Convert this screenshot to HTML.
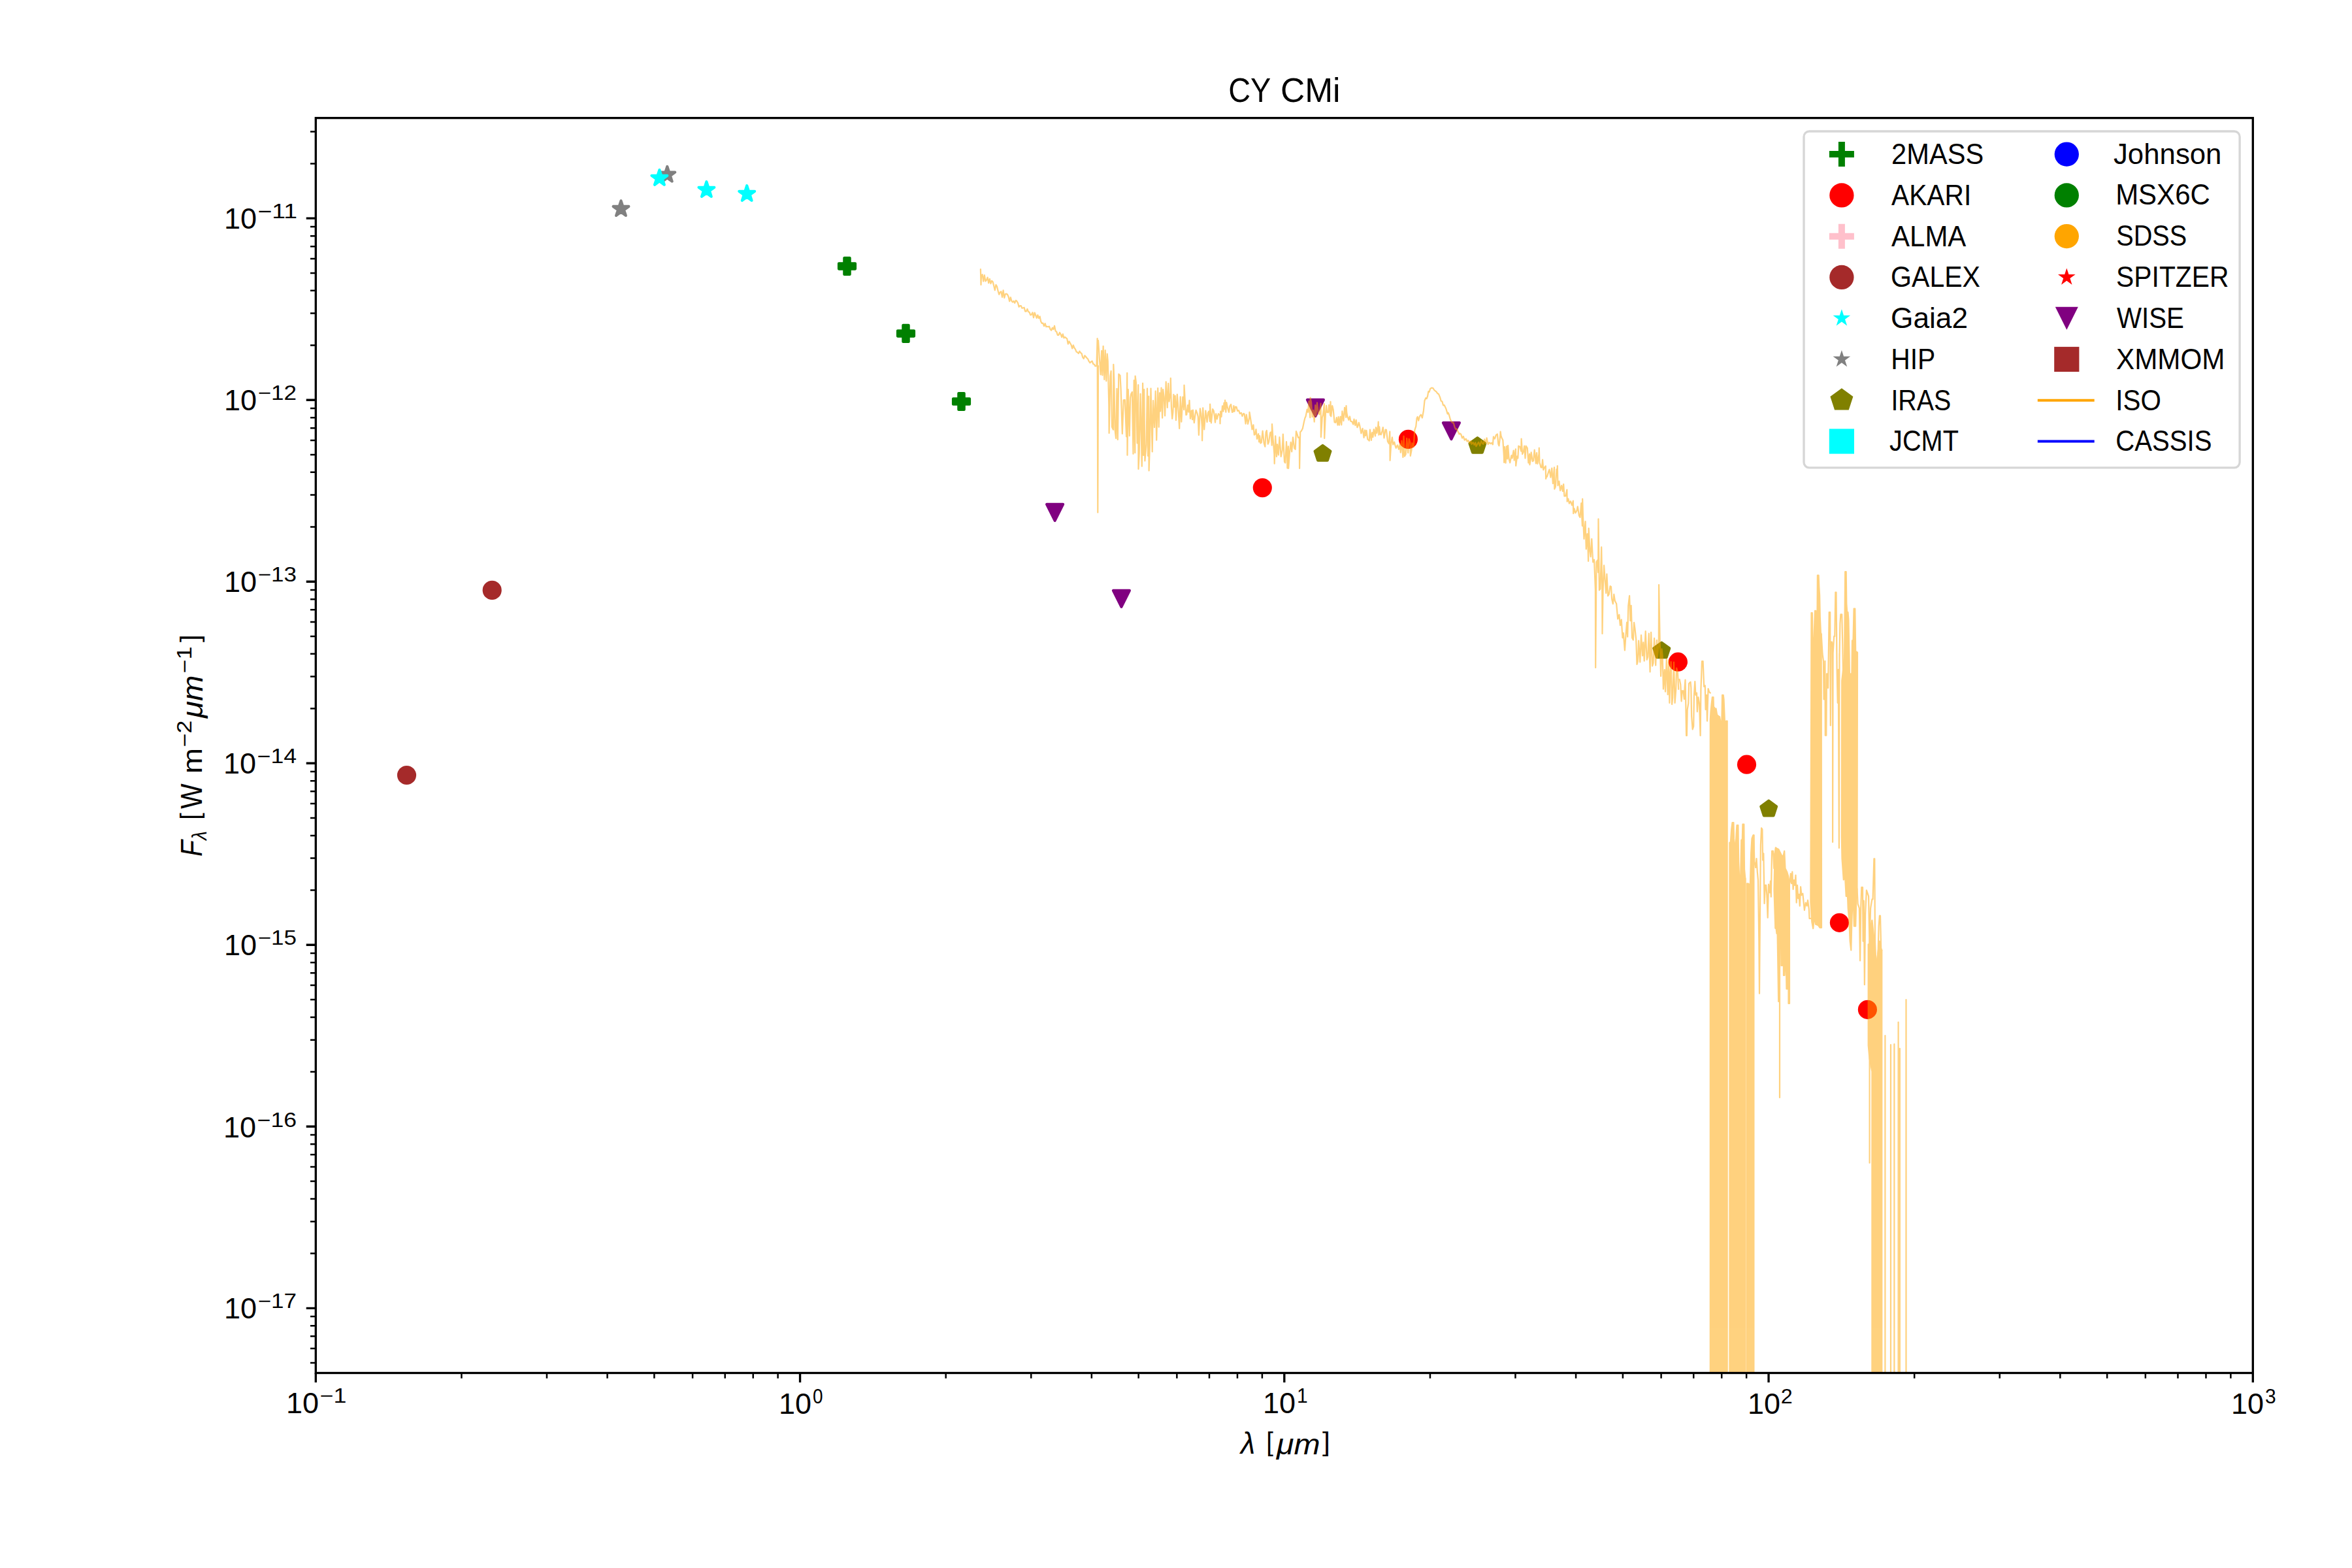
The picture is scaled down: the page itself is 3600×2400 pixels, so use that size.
<!DOCTYPE html><html><head><meta charset="utf-8"><title>CY CMi</title><style>html,body{margin:0;padding:0;background:#fff;overflow:hidden}svg{display:block}</style></head><body>
<svg width="3600" height="2400" viewBox="0 0 3600 2400">
<rect width="3600" height="2400" fill="#fff"/>
<defs><clipPath id="ax"><rect x="483.3" y="180.6" width="2965.0" height="1920.9"/></clipPath></defs>
<g clip-path="url(#ax)">
<circle cx="622.5" cy="1186.5" r="14.58" fill="#a52a2a"/><circle cx="753.2" cy="903.4" r="14.58" fill="#a52a2a"/><polygon points="950.50,307.30 953.31,315.94 962.39,315.94 955.04,321.28 957.85,329.91 950.50,324.57 943.15,329.91 945.96,321.28 938.61,315.94 947.69,315.94" fill="#808080" stroke="#808080" stroke-width="4.17" stroke-linejoin="round"/><polygon points="1021.30,255.00 1024.11,263.64 1033.19,263.64 1025.84,268.98 1028.65,277.61 1021.30,272.27 1013.95,277.61 1016.76,268.98 1009.41,263.64 1018.49,263.64" fill="#808080" stroke="#808080" stroke-width="4.17" stroke-linejoin="round"/><polygon points="1009.40,260.10 1012.21,268.74 1021.29,268.74 1013.94,274.08 1016.75,282.71 1009.40,277.37 1002.05,282.71 1004.86,274.08 997.51,268.74 1006.59,268.74" fill="#00ffff" stroke="#00ffff" stroke-width="4.17" stroke-linejoin="round"/><polygon points="1081.40,278.20 1084.21,286.84 1093.29,286.84 1085.94,292.18 1088.75,300.81 1081.40,295.47 1074.05,300.81 1076.86,292.18 1069.51,286.84 1078.59,286.84" fill="#00ffff" stroke="#00ffff" stroke-width="4.17" stroke-linejoin="round"/><polygon points="1143.20,284.20 1146.01,292.84 1155.09,292.84 1147.74,298.18 1150.55,306.81 1143.20,301.47 1135.85,306.81 1138.66,298.18 1131.31,292.84 1140.39,292.84" fill="#00ffff" stroke="#00ffff" stroke-width="4.17" stroke-linejoin="round"/><polygon points="1292.33,394.90 1300.67,394.90 1300.67,403.23 1309.00,403.23 1309.00,411.57 1300.67,411.57 1300.67,419.90 1292.33,419.90 1292.33,411.57 1284.00,411.57 1284.00,403.23 1292.33,403.23" fill="#008000" stroke="#008000" stroke-width="4.17" stroke-linejoin="round"/><polygon points="1382.33,497.90 1390.67,497.90 1390.67,506.23 1399.00,506.23 1399.00,514.57 1390.67,514.57 1390.67,522.90 1382.33,522.90 1382.33,514.57 1374.00,514.57 1374.00,506.23 1382.33,506.23" fill="#008000" stroke="#008000" stroke-width="4.17" stroke-linejoin="round"/><polygon points="1467.33,602.00 1475.67,602.00 1475.67,610.33 1484.00,610.33 1484.00,618.67 1475.67,618.67 1475.67,627.00 1467.33,627.00 1467.33,618.67 1459.00,618.67 1459.00,610.33 1467.33,610.33" fill="#008000" stroke="#008000" stroke-width="4.17" stroke-linejoin="round"/><polygon points="1602.10,771.90 1627.10,771.90 1614.60,796.90" fill="#800080" stroke="#800080" stroke-width="4.17" stroke-linejoin="round"/><polygon points="1703.90,903.90 1728.90,903.90 1716.40,928.90" fill="#800080" stroke="#800080" stroke-width="4.17" stroke-linejoin="round"/><polygon points="2000.90,611.90 2025.90,611.90 2013.40,636.90" fill="#800080" stroke="#800080" stroke-width="4.17" stroke-linejoin="round"/><polygon points="2208.90,647.10 2233.90,647.10 2221.40,672.10" fill="#800080" stroke="#800080" stroke-width="4.17" stroke-linejoin="round"/><polygon points="2024.50,682.00 2036.39,690.64 2031.85,704.61 2017.15,704.61 2012.61,690.64" fill="#808000" stroke="#808000" stroke-width="4.17" stroke-linejoin="round"/><polygon points="2261.40,670.10 2273.29,678.74 2268.75,692.71 2254.05,692.71 2249.51,678.74" fill="#808000" stroke="#808000" stroke-width="4.17" stroke-linejoin="round"/><polygon points="2543.30,983.60 2555.19,992.24 2550.65,1006.21 2535.95,1006.21 2531.41,992.24" fill="#808000" stroke="#808000" stroke-width="4.17" stroke-linejoin="round"/><polygon points="2707.20,1225.70 2719.09,1234.34 2714.55,1248.31 2699.85,1248.31 2695.31,1234.34" fill="#808000" stroke="#808000" stroke-width="4.17" stroke-linejoin="round"/><circle cx="1932.3" cy="746.6" r="14.58" fill="#ff0000"/><circle cx="2155.4" cy="672.4" r="14.58" fill="#ff0000"/><circle cx="2568.4" cy="1013.2" r="14.58" fill="#ff0000"/><circle cx="2673.5" cy="1170.2" r="14.58" fill="#ff0000"/><circle cx="2815.4" cy="1412.3" r="14.58" fill="#ff0000"/><circle cx="2858.4" cy="1545.3" r="14.58" fill="#ff0000"/>
<g opacity="0.5"><path d="M1500.9 412.0 L1501.5 436.0 L1502.0 422.3 L1503.6 420.1 L1505.2 430.6 L1506.8 421.1 L1508.4 430.5 L1510.0 428.6 L1511.6 424.6 L1513.2 433.2 L1514.8 426.8 L1516.4 434.1 L1518.0 429.8 L1519.6 431.4 L1521.2 437.4 L1522.8 444.2 L1524.4 435.9 L1526.0 438.6 L1527.6 445.3 L1529.2 450.8 L1530.8 447.2 L1532.4 446.2 L1534.0 454.9 L1535.6 444.4 L1537.2 455.9 L1538.8 450.1 L1540.4 449.7 L1542.0 450.7 L1543.6 454.2 L1545.2 461.2 L1546.8 455.1 L1548.4 460.8 L1550.0 462.5 L1551.6 460.7 L1553.2 463.8 L1554.8 459.8 L1556.4 461.0 L1558.0 463.7 L1559.6 469.6 L1561.2 468.2 L1562.8 468.0 L1564.4 471.7 L1566.0 471.3 L1567.6 470.7 L1569.2 476.6 L1570.8 476.6 L1572.4 473.0 L1574.0 477.3 L1575.6 477.8 L1577.2 482.2 L1578.8 481.7 L1580.4 478.3 L1582.0 486.2 L1583.6 478.5 L1585.2 482.5 L1586.8 486.8 L1588.4 482.2 L1590.0 487.2 L1591.6 484.3 L1593.2 492.2 L1594.8 494.8 L1596.4 494.5 L1598.0 499.1 L1599.6 495.1 L1601.2 500.1 L1602.8 499.7 L1604.4 500.2 L1606.0 499.6 L1607.6 504.0 L1609.2 505.7 L1610.8 501.6 L1612.4 504.1 L1614.0 498.7 L1615.6 506.7 L1617.2 507.8 L1618.8 512.9 L1620.4 512.8 L1622.0 509.0 L1623.6 511.7 L1625.2 516.1 L1626.8 511.3 L1628.4 517.3 L1630.0 516.0 L1631.6 517.2 L1633.2 518.4 L1634.8 526.5 L1636.4 522.4 L1638.0 525.2 L1639.6 528.0 L1641.2 533.4 L1642.8 528.3 L1644.4 532.5 L1646.0 534.6 L1647.6 538.6 L1649.2 539.3 L1650.8 541.0 L1652.4 537.6 L1654.0 539.9 L1655.6 541.1 L1657.2 546.9 L1658.8 549.0 L1660.4 544.2 L1662.0 546.0 L1663.6 548.0 L1665.2 549.6 L1666.8 553.2 L1668.4 555.3 L1670.0 553.7 L1671.6 552.7 L1673.2 557.0 L1674.8 557.7 L1676.4 560.3 L1678.5 560.0 L1679.6 518.0 L1680.3 784.5 L1681.0 560.0 M1681.0 521.2 L1682.8 548.2 L1684.7 573.4 L1686.2 536.8 L1687.4 574.4 L1688.6 529.9 L1690.3 581.0 L1691.7 536.2 L1693.3 583.2 L1694.7 541.5 L1695.7 552.6 L1697.3 619.2 L1697.6 663.0 L1699.4 575.6 L1700.6 567.9 L1702.0 653.6 L1704.0 657.7 L1704.3 557.9 L1705.3 582.0 L1706.6 657.8 L1708.1 671.0 L1709.5 594.8 L1710.8 672.9 L1712.3 572.6 L1714.5 574.7 L1715.6 595.1 L1717.8 664.0 L1719.7 612.4 L1721.8 612.2 L1724.1 668.3 L1725.2 570.9 L1725.5 696.7 L1726.8 596.2 L1728.8 667.1 L1730.1 608.7 L1731.2 603.1 L1732.9 599.9 L1734.5 694.7 L1735.7 582.2 L1737.3 693.1 L1737.6 575.5 L1738.9 585.4 L1740.6 678.3 L1742.2 589.1 L1742.5 718.0 L1743.7 693.9 L1745.6 602.8 L1747.8 713.7 L1749.1 586.6 L1750.2 697.0 L1751.2 596.0 L1752.4 705.5 L1754.5 681.7 L1756.0 594.5 L1757.1 697.8 L1758.3 606.6 L1758.6 720.4 L1759.9 681.2 L1761.5 594.5 L1763.7 691.4 L1765.0 613.2 L1767.0 654.1 L1768.7 598.6 L1770.2 673.7 L1772.2 594.0 L1773.7 653.7 L1775.0 601.3 L1776.1 629.5 L1777.5 593.5 L1779.1 639.7 L1780.1 596.0 L1781.6 607.2 L1783.1 636.5 L1784.7 584.4 L1786.8 624.0 L1788.2 586.8 L1789.5 614.6 L1791.5 601.2 L1791.8 578.8 L1792.9 622.5 L1794.2 640.8 L1795.4 630.8 L1796.4 603.8 L1797.6 622.9 L1798.7 605.8 L1800.0 643.2 L1801.8 603.6 L1803.1 620.7 L1804.9 650.1 L1805.2 656.0 L1806.7 607.3 L1808.3 645.7 L1810.3 607.7 L1812.2 627.1 L1812.5 589.5 L1813.6 609.6 L1815.4 635.1 L1816.3 634.6 L1818.0 620.2 L1819.3 630.7 L1820.5 612.9 L1821.9 640.8 L1823.7 628.4 L1825.0 642.1 L1825.9 627.7 L1827.8 647.2 L1829.3 635.7 L1830.6 627.9 L1832.6 633.1 L1833.8 638.1 L1834.9 665.9 L1836.9 625.3 L1838.2 632.4 L1839.8 651.7 L1840.1 674.5 L1841.2 624.4 L1843.2 657.4 L1845.3 628.5 L1847.6 646.0 L1848.9 632.1 L1850.2 629.6 L1851.8 645.0 L1852.1 618.6 L1853.9 647.5 L1856.1 626.2 L1857.6 628.5 L1858.6 634.5 L1860.0 646.7 L1861.3 633.4 L1862.8 641.4 L1864.9 633.2 L1867.2 636.0 L1867.5 648.5 L1868.2 629.5 L1869.5 638.0 L1871.0 621.3 L1872.4 629.6 L1873.5 616.6 L1874.8 626.4 L1875.1 612.5 L1876.3 630.8 L1877.3 616.0 L1878.8 623.4 L1881.0 630.9 L1882.3 621.8 L1884.1 618.9 L1886.0 631.0 L1887.3 630.2 L1888.4 621.1 L1889.5 629.8 L1891.0 622.6 L1892.5 622.8 L1894.1 629.0 L1896.0 628.2 L1897.8 633.2 L1899.9 631.8 L1901.4 637.0 L1903.3 632.9 L1904.7 633.8 L1906.6 648.6 L1907.8 634.6 L1910.0 649.0 L1912.2 639.3 L1912.5 630.9 L1914.3 642.2 L1916.5 657.4 L1918.4 650.3 L1919.8 665.6 L1921.2 664.5 L1922.5 657.0 L1924.0 671.8 L1926.1 664.1 L1927.1 676.5 L1928.1 667.2 L1929.4 678.5 L1930.7 677.4 L1932.6 659.6 L1934.7 678.5 L1936.3 683.6 L1937.6 661.7 L1938.8 658.9 L1940.7 679.7 L1942.1 676.6 L1944.1 662.3 L1945.4 661.4 L1946.7 681.6 L1947.0 649.2 L1948.6 672.5 L1950.4 695.2 L1950.7 709.7 L1952.2 667.4 L1953.9 698.9 L1955.1 680.0 L1956.8 696.5 L1958.4 669.2 L1960.7 698.8 L1962.7 689.0 L1963.8 664.6 L1966.0 706.8 L1967.3 708.5 L1969.0 676.2 L1970.1 696.8 L1970.4 716.6 L1971.9 683.1 L1972.2 717.0 L1973.8 694.0 L1975.7 676.9 L1977.2 691.3 L1979.0 669.3 L1981.2 686.3 L1982.7 687.8 L1983.9 660.2 L1985.4 664.3 L1987.0 669.9 L1988.8 669.3 L1989.1 717.0 L1990.2 661.3 L1991.8 659.7 L1993.8 655.9 L1996.0 645.4 L1997.4 639.7 L1998.6 637.2 L2000.7 626.5 L2002.1 631.0 L2003.4 614.0 L2005.3 639.1 L2005.6 608.5 L2007.1 615.9 L2008.6 638.1 L2010.1 627.8 L2011.7 645.6 L2013.2 620.1 L2014.3 636.1 L2016.0 616.3 L2017.9 633.0 L2019.4 634.1 L2021.6 617.5 L2021.9 669.0 L2023.8 639.0 L2025.0 634.9 L2026.9 618.0 L2027.2 671.0 L2028.9 633.8 L2030.1 620.8 L2031.1 630.9 L2033.0 631.3 L2034.1 619.9 L2036.2 635.9 L2036.5 614.8 L2037.3 637.4 L2039.2 621.0 L2040.7 627.1 L2042.6 646.3 L2044.3 646.9 L2045.7 639.2 L2047.5 650.6 L2048.6 638.2 L2050.0 650.6 L2051.7 637.5 L2053.3 650.3 L2054.4 629.3 L2056.4 644.1 L2058.1 623.9 L2060.2 638.9 L2060.5 621.2 L2061.2 631.0 L2062.3 636.9 L2064.4 642.8 L2066.0 637.5 L2067.4 644.9 L2069.4 645.2 L2071.3 649.6 L2072.5 641.6 L2074.4 651.1 L2075.7 642.9 L2077.4 654.2 L2078.6 651.6 L2079.9 646.8 L2081.3 651.8 L2083.4 663.4 L2085.6 655.8 L2087.6 669.9 L2089.0 658.3 L2090.1 666.9 L2091.5 658.8 L2093.3 672.3 L2094.7 673.5 L2095.8 674.6 L2096.9 657.7 L2098.9 673.8 L2100.2 662.0 L2101.4 669.0 L2102.8 657.1 L2105.0 667.3 L2106.0 654.0 L2107.4 662.9 L2109.4 650.7 L2109.7 645.5 L2110.4 665.7 L2111.3 653.4 L2112.5 664.8 L2113.8 665.3 L2115.7 659.3 L2116.8 654.1 L2118.5 670.4 L2120.6 657.5 L2121.9 657.8 L2124.0 675.8 L2125.9 679.0 L2127.3 660.6 L2127.6 704.8 L2129.2 679.4 L2130.9 669.4 L2132.2 680.5 L2134.2 676.6 L2135.6 682.4 L2136.8 685.9 L2139.0 681.3 L2141.0 687.8 L2142.8 679.6 L2143.8 692.6 L2145.4 674.6 L2147.1 695.6 L2147.4 700.0 L2148.6 667.7 L2149.9 698.4 L2151.7 695.2 L2153.2 670.9 L2155.2 693.1 L2156.7 671.9 L2158.5 677.5 L2158.8 697.8 L2160.5 689.4 L2161.5 678.2 L2163.7 684.3 L2165.3 658.5 L2167.3 652.4 L2168.6 640.0 L2169.7 637.9 L2171.2 643.8 L2173.0 637.1 L2174.9 634.6 L2176.9 639.6 L2178.9 628.7 L2180.5 613.3 L2182.3 609.2 L2183.7 610.1 L2185.1 606.4 L2186.4 599.0 L2187.7 599.8 L2189.2 594.9 L2191.3 593.6 L2193.4 594.0 L2195.2 597.0 L2197.0 598.5 L2198.3 599.4 L2200.4 602.3 L2202.1 603.3 L2204.1 608.1 L2205.7 613.8 L2207.4 614.5 L2209.0 620.3 L2210.6 620.1 L2211.6 622.1 L2213.4 625.9 L2215.6 633.5 L2216.6 631.6 L2217.9 634.7 L2220.1 642.7 L2221.4 644.8 L2223.1 647.2 L2224.6 646.6 L2226.6 654.0 L2228.2 657.1 L2229.6 656.3 L2231.4 660.2 L2233.5 664.6 L2234.4 663.3 L2236.2 664.7 L2238.0 670.5 L2239.8 667.9 L2241.7 673.6 L2243.9 671.7 L2245.8 675.7 L2247.3 674.1 L2249.5 678.1 L2251.5 674.9 L2252.5 679.8 L2254.7 677.1 L2256.5 681.1 L2258.3 677.5 L2259.4 683.2 L2261.3 679.9 L2263.2 676.8 L2265.1 682.4 L2267.3 674.7 L2269.3 679.3 L2270.4 679.8 L2272.1 672.4 L2274.1 678.9 L2275.6 670.3 L2277.6 680.1 L2279.4 677.4 L2281.7 679.0 L2283.2 677.8 L2284.9 680.4 L2285.9 668.4 L2287.9 671.6 L2289.9 665.9 L2291.9 664.4 L2293.3 679.5 L2294.5 682.4 L2296.3 666.7 L2296.6 660.7 L2297.5 667.2 L2298.6 670.2 L2300.3 673.4 L2301.9 697.8 L2302.2 708.0 L2303.1 683.9 L2304.6 708.7 L2306.0 683.1 L2307.2 702.5 L2308.1 681.8 L2309.7 702.5 L2311.2 708.3 L2313.4 697.1 L2314.6 701.4 L2316.7 689.5 L2317.7 704.7 L2319.9 687.3 L2320.2 713.0 L2322.1 698.3 L2323.3 701.4 L2324.3 682.6 L2326.4 683.7 L2328.3 690.6 L2328.6 671.5 L2330.2 695.1 L2331.9 691.2 L2333.2 682.7 L2334.5 701.4 L2335.7 682.6 L2337.8 685.9 L2339.4 708.5 L2341.1 694.8 L2341.4 711.3 L2342.7 703.6 L2343.7 692.4 L2345.8 706.2 L2347.1 705.2 L2348.7 688.6 L2350.9 709.4 L2352.1 693.1 L2353.4 709.8 L2355.5 694.9 L2355.8 685.6 L2356.5 708.4 L2357.5 711.2 L2358.5 715.3 L2360.0 715.6 L2361.1 703.7 L2362.3 719.2 L2363.9 715.7 L2365.8 713.3 L2366.1 732.9 L2366.9 729.7 L2367.9 729.6 L2369.9 723.0 L2371.5 718.6 L2373.5 730.7 L2375.3 716.5 L2376.9 740.2 L2379.0 715.3 L2379.3 748.6 L2380.9 745.0 L2382.5 718.4 L2383.5 725.1 L2383.8 713.0 L2384.5 743.3 L2386.4 736.6 L2388.1 750.9 L2390.2 743.1 L2391.8 751.9 L2393.2 741.0 L2394.4 759.4 L2396.4 759.2 L2398.4 749.5 L2398.7 767.7 L2400.4 763.4 L2401.9 770.6 L2403.9 767.1 L2406.1 773.4 L2407.9 766.6 L2408.2 786.0 L2409.5 778.3 L2411.4 785.1 L2413.5 781.7 L2414.8 775.3 L2417.0 789.4 L2418.5 791.9 L2420.3 770.1 L2421.9 804.9 L2422.2 763.6 L2423.0 790.7 L2424.5 824.8 L2426.6 798.2 L2427.8 840.5 L2429.5 817.1 L2430.8 845.9 L2431.1 859.0 L2431.7 808.6 L2433.4 842.6 L2434.7 852.1 L2436.3 824.9 L2438.2 860.5 L2440.1 856.6 L2441.9 901.9 L2442.2 1022.0 L2443.5 860.1 L2445.1 857.5 L2446.2 876.1 L2446.5 794.3 L2447.9 903.4 L2449.4 901.6 L2450.9 851.9 L2451.2 837.4 L2452.2 894.4 L2452.5 970.0 L2453.6 902.7 L2455.1 865.3 L2456.8 889.4 L2458.2 907.8 L2459.4 878.6 L2461.1 912.1 L2462.7 909.7 L2464.6 897.1 L2466.0 898.2 L2467.1 916.8 L2468.8 924.3 L2470.3 909.6 L2471.9 919.8 L2474.1 923.9 L2476.2 947.4 L2478.3 940.8 L2479.9 957.2 L2481.7 948.4 L2483.5 976.2 L2484.8 968.9 L2486.9 995.3 L2488.5 972.2 L2490.1 952.5 L2491.2 974.7 L2492.3 927.1 L2494.1 911.8 L2495.4 950.2 L2496.7 926.9 L2498.1 976.2 L2499.8 979.6 L2501.1 952.9 L2502.5 962.7 L2504.2 978.4 L2505.5 1016.9 L2506.8 1012.5 L2508.1 980.6 L2510.3 1013.5 L2512.0 972.2 L2514.0 1003.6 L2515.3 983.1 L2516.7 1011.6 L2518.7 966.0 L2520.7 1009.8 L2522.2 1005.6 L2523.8 969.7 L2525.6 1028.5 L2527.1 967.8 L2529.1 1019.5 L2530.5 1014.9 L2532.1 976.9 L2534.2 1018.5 L2535.9 979.8 L2536.9 1006.9 L2538.8 987.3 L2539.1 895.0 L2540.7 983.2 L2542.1 1034.9 L2543.5 993.4 L2544.7 1004.0 L2545.9 1054.6 L2547.8 1025.1 L2549.0 1058.7 L2550.8 1008.8 L2552.7 1063.1 L2554.1 1010.3 L2555.4 1075.9 L2556.4 1034.0 L2557.7 1013.0 L2559.1 1078.1 L2560.2 1068.0 L2562.0 1013.6 L2563.6 1076.0 L2565.2 1055.6 L2566.2 1022.5 L2567.9 1029.1 L2569.2 1054.9 M2570.7 1039.9 L2572.3 1047.8 L2573.6 1073.3 L2574.7 1057.4 L2576.3 1057.4 L2577.9 1070.1 L2578.7 1051.0 L2579.5 1040.7 L2580.3 1078.1 L2581.1 1125.9 L2581.9 1125.9 L2582.7 1086.1 L2584.3 1076.5 L2585.1 1046.2 L2587.5 1043.8 L2588.3 1052.6 L2589.1 1095.6 L2590.7 1116.4 L2592.2 1111.6 L2593.0 1063.8 L2594.3 1043.0 L2595.4 1063.8 L2597.0 1060.6 L2597.8 1089.3 L2599.4 1067.0 L2601.0 1076.5 L2602.6 1125.9 L2603.4 1055.8 L2605.0 1012.0 L2606.6 1012.0 L2608.2 1051.0 L2609.8 1049.4 L2610.6 1086.1 L2612.2 1063.8 L2613.0 1103.6 L2614.6 1054.2 L2616.2 1059.0 L2617.8 1060.6 M2684.4 1278.3 L2685.3 1319.1 L2687.2 1328.0 L2688.5 1314.0 L2689.8 1334.4 L2691.0 1347.2 L2692.3 1440.1 L2693.0 1520.7 L2693.6 1440.1 L2694.9 1293.6 L2696.1 1267.4 L2697.4 1269.3 L2698.1 1316.6 L2699.3 1306.3 L2700.6 1382.9 L2701.9 1354.8 L2703.2 1354.8 L2704.4 1370.1 L2705.7 1404.6 L2707.0 1353.6 L2708.9 1366.3 L2709.9 1348.5 L2710.8 1372.7 L2712.1 1302.5 L2714.0 1302.5 L2715.3 1329.3 L2716.6 1306.3 M2724.0 1450.0 L2724.0 1680.0 M2738.9 1352.3 L2739.5 1351.0 L2740.8 1337.0 L2742.1 1352.3 L2743.3 1334.4 L2744.6 1361.2 L2745.9 1347.2 L2747.2 1354.8 L2748.5 1339.5 L2749.7 1381.6 L2751.0 1354.8 L2752.3 1375.2 L2753.6 1368.9 L2754.8 1386.7 L2756.1 1357.4 L2757.4 1370.1 L2759.3 1367.6 L2760.6 1380.4 L2761.9 1393.1 L2763.8 1381.6 L2765.7 1386.7 L2767.0 1377.8 L2768.9 1391.8 L2769.5 1405.9 L2771.4 1405.9 M2787.7 970.6 L2789.5 1001.0 L2791.0 1011.8 L2791.6 1070.4 L2792.7 1070.4 L2793.4 1011.8 L2793.8 1125.7 L2795.3 1125.7 L2796.0 1031.4 L2797.5 1031.4 L2798.1 1053.1 L2799.7 937.0 L2801.2 937.0 L2801.8 1110.5 L2802.9 982.6 L2804.0 982.6 L2805.1 990.2 L2805.1 1289.0 L2805.6 1000.0 L2807.2 973.9 L2808.3 973.9 L2809.4 906.6 L2810.5 906.6 L2811.6 1022.7 L2812.7 1075.8 L2813.8 1024.9 L2814.9 1298.0 L2815.5 1000.0 L2815.5 1007.5 L2816.4 954.4 L2817.4 940.3 L2819.2 940.3 L2820.3 985.8 L2821.3 1042.2 M2842.5 1360.3 L2843.6 1383.3 L2845.9 1390.2 L2847.1 1470.5 L2848.2 1390.2 L2849.3 1358.0 L2851.0 1358.0 L2851.6 1440.7 L2852.8 1378.7 L2853.9 1507.2 L2855.1 1399.3 L2856.9 1362.6 L2858.5 1367.2 L2860.1 1371.8 L2861.5 1445.3 L2863.1 1390.2 L2865.4 1376.4 L2866.6 1376.4 L2868.4 1314.4 L2869.3 1314.4 L2870.0 1440.7 L2871.6 1482.0 L2873.0 1472.8 L2874.6 1456.7 L2875.7 1417.7 L2876.9 1401.6 L2878.0 1401.6 L2879.2 1452.1 L2880.3 1454.4 M2861.6 1600.0 L2861.6 1780.0 M2885.4 1585.0 L2885.4 2107.5 M2894.0 1599.0 L2894.0 2107.5 M2899.4 1598.0 L2899.4 2107.5 M2905.6 1564.6 L2905.6 2107.5 M2907.9 1604.8 L2907.9 2107.5 M2917.5 1530.0 L2917.5 2107.5" fill="none" stroke="#ffa500" stroke-width="2.20" stroke-linejoin="round" stroke-linecap="round"/>
<path d="M2617.8 1102.0 L2618.5 1089.3 L2619.7 1077.3 L2620.9 1067.0 L2622.5 1067.0 L2623.3 1094.1 L2624.1 1082.9 L2624.9 1086.1 L2626.5 1084.5 L2628.1 1094.1 L2629.7 1095.6 L2632.1 1097.2 L2633.7 1106.8 L2635.3 1108.4 L2636.1 1063.8 L2637.7 1063.8 L2638.5 1070.1 L2640.1 1108.4 L2641.2 1135.5 L2642.1 1103.6 L2643.7 1103.6 L2643.7 2107.5 L2617.8 2107.5 Z M2647.4 1289.8 L2648.9 1288.5 L2650.2 1270.0 L2651.5 1259.1 L2653.4 1259.1 L2654.0 1283.4 L2655.3 1296.1 L2656.6 1296.1 L2657.6 1275.7 L2658.5 1263.0 L2660.4 1263.0 L2661.1 1319.1 L2662.3 1345.9 L2663.6 1345.9 L2664.2 1340.8 L2665.3 1285.9 L2666.8 1284.7 L2667.4 1261.7 L2669.3 1261.7 L2670.0 1330.6 L2671.3 1344.6 L2671.6 1344.6 L2671.6 2107.5 L2647.4 2107.5 Z M2674.1 1352.3 L2675.7 1352.3 L2677.4 1353.6 L2678.3 1375.2 L2678.9 1353.6 L2680.2 1305.1 L2681.5 1283.4 L2683.4 1278.3 L2684.4 1278.3 L2684.4 2107.5 L2674.1 2107.5 Z M2716.6 1306.3 L2717.8 1297.4 L2719.7 1298.7 L2722.3 1300.0 L2724.2 1303.8 L2726.8 1308.9 L2729.3 1311.5 L2731.2 1302.5 L2732.5 1329.3 L2735.1 1334.4 L2737.0 1340.8 L2738.9 1352.3 L2739.0 1536.0 L2737.5 1536.0 L2737.5 1513.7 L2734.5 1513.7 L2733.5 1452.4 L2731.5 1493.0 L2730.0 1493.0 L2729.8 1472.0 L2728.0 1478.0 L2726.5 1478.0 L2726.3 1417.0 L2724.5 1417.0 L2723.5 1533.0 L2722.2 1533.0 L2720.6 1429.0 L2719.5 1429.0 L2718.6 1420.8 L2717.3 1420.8 L2717.1 1412.7 L2715.5 1362.0 Z M2772.5 938.1 L2773.8 938.1 L2774.7 996.7 L2776.0 996.7 L2776.9 966.3 L2778.0 934.8 L2779.3 934.8 L2780.1 988.0 L2781.2 988.0 L2781.9 880.6 L2783.6 880.6 L2784.3 898.0 L2785.1 911.0 L2785.8 944.6 L2786.9 968.5 L2787.7 970.6 L2788.0 1419.9 L2785.5 1419.9 L2782.9 1416.1 L2779.1 1414.8 L2777.2 1402.0 L2775.2 1421.2 L2773.3 1411.0 L2771.4 1380.4 Z M2819.2 1042.2 L2823.1 1007.5 L2824.2 875.2 L2825.7 875.2 L2826.3 924.0 L2827.2 937.0 L2828.5 937.0 L2829.4 948.9 L2830.5 1003.2 L2831.1 1044.4 L2832.2 1044.4 L2832.8 1031.4 L2834.4 1031.4 L2835.0 980.4 L2836.5 980.4 L2837.6 931.6 L2839.3 931.6 L2840.2 997.7 L2842.0 997.7 L2843.0 998.8 L2842.5 1360.3 L2841.3 1376.4 L2840.2 1417.7 L2837.9 1417.7 L2836.7 1376.4 L2835.6 1376.4 L2834.4 1408.5 L2833.3 1454.4 L2831.7 1440.7 L2830.3 1408.5 L2828.7 1390.2 L2828.0 1371.8 L2825.7 1371.8 L2824.1 1342.0 L2821.8 1346.6 L2819.5 1314.4 L2818.8 1280.0 Z M2859.7 1445.3 L2861.5 1445.3 L2863.1 1417.7 L2865.4 1408.5 L2868.9 1440.7 L2871.6 1482.0 L2874.6 1456.7 L2876.9 1440.7 L2879.2 1452.1 L2880.3 1454.4 L2880.3 2107.5 L2865.4 2107.5 L2865.4 1640.0 L2861.5 1620.0 L2859.7 1600.0 Z" fill="#ffa500" stroke="#ffa500" stroke-width="2.20" stroke-linejoin="round"/></g>
</g>
<rect x="483.30" y="180.60" width="2965.00" height="1920.90" fill="none" stroke="#000" stroke-width="3.33" stroke-linejoin="miter"/>
<path d="M483.30 2101.50 L483.30 2116.08 M1224.55 2101.50 L1224.55 2116.08 M1965.80 2101.50 L1965.80 2116.08 M2707.05 2101.50 L2707.05 2116.08 M3448.30 2101.50 L3448.30 2116.08 M483.30 2002.30 L468.72 2002.30 M483.30 1724.28 L468.72 1724.28 M483.30 1446.27 L468.72 1446.27 M483.30 1168.25 L468.72 1168.25 M483.30 890.23 L468.72 890.23 M483.30 612.22 L468.72 612.22 M483.30 334.20 L468.72 334.20" stroke="#000" stroke-width="3.33"/>
<path d="M706.44 2101.50 L706.44 2109.83 M836.97 2101.50 L836.97 2109.83 M929.58 2101.50 L929.58 2109.83 M1001.41 2101.50 L1001.41 2109.83 M1060.10 2101.50 L1060.10 2109.83 M1109.73 2101.50 L1109.73 2109.83 M1152.72 2101.50 L1152.72 2109.83 M1190.63 2101.50 L1190.63 2109.83 M1447.69 2101.50 L1447.69 2109.83 M1578.22 2101.50 L1578.22 2109.83 M1670.83 2101.50 L1670.83 2109.83 M1742.66 2101.50 L1742.66 2109.83 M1801.35 2101.50 L1801.35 2109.83 M1850.98 2101.50 L1850.98 2109.83 M1893.97 2101.50 L1893.97 2109.83 M1931.88 2101.50 L1931.88 2109.83 M2188.94 2101.50 L2188.94 2109.83 M2319.47 2101.50 L2319.47 2109.83 M2412.08 2101.50 L2412.08 2109.83 M2483.91 2101.50 L2483.91 2109.83 M2542.60 2101.50 L2542.60 2109.83 M2592.23 2101.50 L2592.23 2109.83 M2635.22 2101.50 L2635.22 2109.83 M2673.13 2101.50 L2673.13 2109.83 M2930.19 2101.50 L2930.19 2109.83 M3060.72 2101.50 L3060.72 2109.83 M3153.33 2101.50 L3153.33 2109.83 M3225.16 2101.50 L3225.16 2109.83 M3283.85 2101.50 L3283.85 2109.83 M3333.48 2101.50 L3333.48 2109.83 M3376.47 2101.50 L3376.47 2109.83 M3414.38 2101.50 L3414.38 2109.83 M483.30 2085.99 L474.97 2085.99 M483.30 2063.98 L474.97 2063.98 M483.30 2045.37 L474.97 2045.37 M483.30 2029.24 L474.97 2029.24 M483.30 2015.02 L474.97 2015.02 M483.30 1918.61 L474.97 1918.61 M483.30 1869.65 L474.97 1869.65 M483.30 1834.92 L474.97 1834.92 M483.30 1807.97 L474.97 1807.97 M483.30 1785.96 L474.97 1785.96 M483.30 1767.35 L474.97 1767.35 M483.30 1751.23 L474.97 1751.23 M483.30 1737.00 L474.97 1737.00 M483.30 1640.59 L474.97 1640.59 M483.30 1591.64 L474.97 1591.64 M483.30 1556.90 L474.97 1556.90 M483.30 1529.96 L474.97 1529.96 M483.30 1507.94 L474.97 1507.94 M483.30 1489.33 L474.97 1489.33 M483.30 1473.21 L474.97 1473.21 M483.30 1458.99 L474.97 1458.99 M483.30 1362.58 L474.97 1362.58 M483.30 1313.62 L474.97 1313.62 M483.30 1278.88 L474.97 1278.88 M483.30 1251.94 L474.97 1251.94 M483.30 1229.93 L474.97 1229.93 M483.30 1211.32 L474.97 1211.32 M483.30 1195.19 L474.97 1195.19 M483.30 1180.97 L474.97 1180.97 M483.30 1084.56 L474.97 1084.56 M483.30 1035.60 L474.97 1035.60 M483.30 1000.87 L474.97 1000.87 M483.30 973.92 L474.97 973.92 M483.30 951.91 L474.97 951.91 M483.30 933.30 L474.97 933.30 M483.30 917.18 L474.97 917.18 M483.30 902.95 L474.97 902.95 M483.30 806.54 L474.97 806.54 M483.30 757.59 L474.97 757.59 M483.30 722.85 L474.97 722.85 M483.30 695.91 L474.97 695.91 M483.30 673.89 L474.97 673.89 M483.30 655.28 L474.97 655.28 M483.30 639.16 L474.97 639.16 M483.30 624.94 L474.97 624.94 M483.30 528.53 L474.97 528.53 M483.30 479.57 L474.97 479.57 M483.30 444.83 L474.97 444.83 M483.30 417.89 L474.97 417.89 M483.30 395.88 L474.97 395.88 M483.30 377.27 L474.97 377.27 M483.30 361.14 L474.97 361.14 M483.30 346.92 L474.97 346.92 M483.30 250.51 L474.97 250.51 M483.30 201.55 L474.97 201.55" stroke="#000" stroke-width="2.5"/>
<g font-family="Liberation Sans, sans-serif" fill="#000"><text transform="matrix(1.0227,0,0,1.0000,342.93,2018.00)" font-size="44.00">10</text><text transform="matrix(1.1667,0,0,1.0500,394.67,2002.00)" font-size="30.00">−17</text><text transform="matrix(1.0227,0,0,1.0000,341.93,1741.00)" font-size="44.00">10</text><text transform="matrix(1.1875,0,0,1.0500,393.62,1725.00)" font-size="30.00">−16</text><text transform="matrix(1.0227,0,0,1.0000,342.93,1462.00)" font-size="44.00">10</text><text transform="matrix(1.1667,0,0,1.0500,394.67,1446.00)" font-size="30.00">−15</text><text transform="matrix(1.0227,0,0,1.0000,341.93,1184.00)" font-size="44.00">10</text><text transform="matrix(1.1875,0,0,1.0500,393.62,1168.00)" font-size="30.00">−14</text><text transform="matrix(1.0227,0,0,1.0000,342.93,906.00)" font-size="44.00">10</text><text transform="matrix(1.1667,0,0,1.0500,394.67,890.00)" font-size="30.00">−13</text><text transform="matrix(1.0227,0,0,1.0000,342.93,628.00)" font-size="44.00">10</text><text transform="matrix(1.1667,0,0,1.0500,394.67,612.00)" font-size="30.00">−12</text><text transform="matrix(1.0227,0,0,1.0000,342.93,350.00)" font-size="44.00">10</text><text transform="matrix(1.2444,0,0,1.0500,394.51,334.00)" font-size="30.00">−11</text><text transform="matrix(1.0227,0,0,1.0000,437.93,2163.00)" font-size="44.00">10</text><text transform="matrix(1.1935,0,0,1.0500,489.61,2147.00)" font-size="30.00">−1</text><text transform="matrix(1.0227,0,0,1.0000,1191.93,2164.00)" font-size="44.00">10</text><text transform="matrix(0.9333,0,0,1.0500,1244.07,2148.00)" font-size="30.00">0</text><text transform="matrix(1.0227,0,0,1.0000,1932.93,2163.00)" font-size="44.00">10</text><text transform="matrix(1.0000,0,0,1.0500,1985.00,2147.00)" font-size="30.00">1</text><text transform="matrix(1.0227,0,0,1.0000,2674.93,2164.00)" font-size="44.00">10</text><text transform="matrix(1.0769,0,0,1.0500,2725.85,2148.00)" font-size="30.00">2</text><text transform="matrix(1.0227,0,0,1.0000,3414.93,2164.00)" font-size="44.00">10</text><text transform="matrix(1.0000,0,0,1.0500,3467.00,2148.00)" font-size="30.00">3</text><text transform="matrix(0.9104,0,0,1.0000,1880.27,156.00)" font-size="51.50">CY</text><text transform="matrix(1.0000,0,0,1.0000,1960.00,156.00)" font-size="51.50">CMi</text><text transform="matrix(1.0476,0,0,1.0645,1899.10,2225.00)" font-size="43.00" font-style="italic">λ</text><text transform="matrix(0.8889,0,0,0.9500,1938.33,2221.45)" font-size="43.00">[</text><text transform="matrix(1.1207,0,0,1.0323,1954.12,2225.74)" font-size="43.00" font-style="italic">μm</text><text transform="matrix(1.0000,0,0,0.9500,2024.00,2221.45)" font-size="43.00">]</text><text transform="matrix(0,-0.9474,1.0556,0,308.61,1310.95)" font-size="43.00" font-style="italic">F<tspan font-size="30" dy="7">λ</tspan></text><text transform="matrix(0,-0.8889,0.9500,0,305.45,1254.67)" font-size="43.00">[</text><text transform="matrix(0,-0.9500,1.0690,0,309.00,1238.00)" font-size="43.00">W</text><text transform="matrix(0,-1.1000,1.0000,0,309.00,1184.30)" font-size="43.00">m</text><text transform="matrix(0,-1.1935,1.0500,0,293.00,1143.39)" font-size="30.00">−2</text><text transform="matrix(0,-1.1034,1.0323,0,309.74,1098.90)" font-size="43.00" font-style="italic">μm</text><text transform="matrix(0,-1.1935,1.0500,0,293.00,1030.39)" font-size="30.00">−1</text><text transform="matrix(0,-1.0000,0.9500,0,305.45,983.00)" font-size="43.00">]</text></g>
<rect x="2761" y="201" width="667.1" height="514.9" rx="8.33" ry="8.33" fill="#fff" fill-opacity="0.8" stroke="#d6d6d6" stroke-width="3.33"/>
<polygon points="2813.90,217.10 2823.90,217.10 2823.90,231.10 2837.90,231.10 2837.90,241.10 2823.90,241.10 2823.90,255.10 2813.90,255.10 2813.90,241.10 2799.90,241.10 2799.90,231.10 2813.90,231.10" fill="#008000"/><circle cx="2818.9" cy="298.9" r="18.65" fill="#ff0000"/><polygon points="2813.90,342.64 2823.90,342.64 2823.90,356.64 2837.90,356.64 2837.90,366.64 2823.90,366.64 2823.90,380.64 2813.90,380.64 2813.90,366.64 2799.90,366.64 2799.90,356.64 2813.90,356.64" fill="#ffc0cb"/><circle cx="2818.9" cy="424.4" r="18.65" fill="#a52a2a"/><polygon points="2818.90,473.18 2822.04,482.85 2832.21,482.85 2823.99,488.83 2827.13,498.51 2818.90,492.53 2810.67,498.51 2813.81,488.83 2805.59,482.85 2815.76,482.85" fill="#00ffff"/><polygon points="2818.90,535.95 2822.04,545.62 2832.21,545.62 2823.99,551.60 2827.13,561.28 2818.90,555.30 2810.67,561.28 2813.81,551.60 2805.59,545.62 2815.76,545.62" fill="#808080"/><polygon points="2818.90,594.32 2836.40,607.03 2829.72,627.61 2808.08,627.61 2801.40,607.03" fill="#808000"/><rect x="2799.80" y="656.39" width="38.2" height="38.2" fill="#00ffff"/><circle cx="3163.3" cy="236.1" r="18.65" fill="#0000ff"/><circle cx="3163.3" cy="298.9" r="18.65" fill="#008000"/><circle cx="3163.3" cy="361.6" r="18.65" fill="#ffa500"/><polygon points="3163.30,410.41 3166.44,420.08 3176.61,420.08 3168.39,426.06 3171.53,435.74 3163.30,429.76 3155.07,435.74 3158.21,426.06 3149.99,420.08 3160.16,420.08" fill="#ff0000"/><polygon points="3145.80,469.68 3180.80,469.68 3163.30,504.68" fill="#800080"/><rect x="3144.20" y="530.85" width="38.2" height="38.2" fill="#a52a2a"/><path d="M3118.8 612.72 L3205.7 612.72" stroke="#ffa500" stroke-width="4.17"/><path d="M3118.8 675.49 L3205.7 675.49" stroke="#0000ff" stroke-width="4.17"/>
<g font-family="Liberation Sans, sans-serif" fill="#000"><text transform="matrix(0.9583,0,0,1.0000,2895.08,251.00)" font-size="43.50">2MASS</text><text transform="matrix(1.0062,0,0,1.0000,3234.99,251.00)" font-size="43.50">Johnson</text><text transform="matrix(0.9370,0,0,1.0000,2895.00,314.00)" font-size="43.50">AKARI</text><text transform="matrix(0.9653,0,0,1.0000,3238.14,313.00)" font-size="43.50">MSX6C</text><text transform="matrix(0.9661,0,0,1.0000,2895.00,377.00)" font-size="43.50">ALMA</text><text transform="matrix(0.9130,0,0,1.0000,3239.17,376.00)" font-size="43.50">SDSS</text><text transform="matrix(0.9437,0,0,1.0000,2894.11,439.00)" font-size="43.50">GALEX</text><text transform="matrix(0.9385,0,0,1.0000,3239.12,439.00)" font-size="43.50">SPITZER</text><text transform="matrix(1.0179,0,0,1.0000,2893.96,502.08)" font-size="43.50">Gaia2</text><text transform="matrix(0.9266,0,0,1.0000,3240.00,502.00)" font-size="43.50">WISE</text><text transform="matrix(0.9394,0,0,1.0000,2894.24,565.00)" font-size="43.50">HIP</text><text transform="matrix(0.9701,0,0,1.0000,3239.03,565.00)" font-size="43.50">XMMOM</text><text transform="matrix(0.9062,0,0,1.0000,2894.38,628.00)" font-size="43.50">IRAS</text><text transform="matrix(0.9275,0,0,1.0000,3238.29,628.00)" font-size="43.50">ISO</text><text transform="matrix(0.9123,0,0,1.0000,2892.09,690.39)" font-size="43.50">JCMT</text><text transform="matrix(0.9231,0,0,1.0000,3238.15,690.00)" font-size="43.50">CASSIS</text></g>
</svg></body></html>
